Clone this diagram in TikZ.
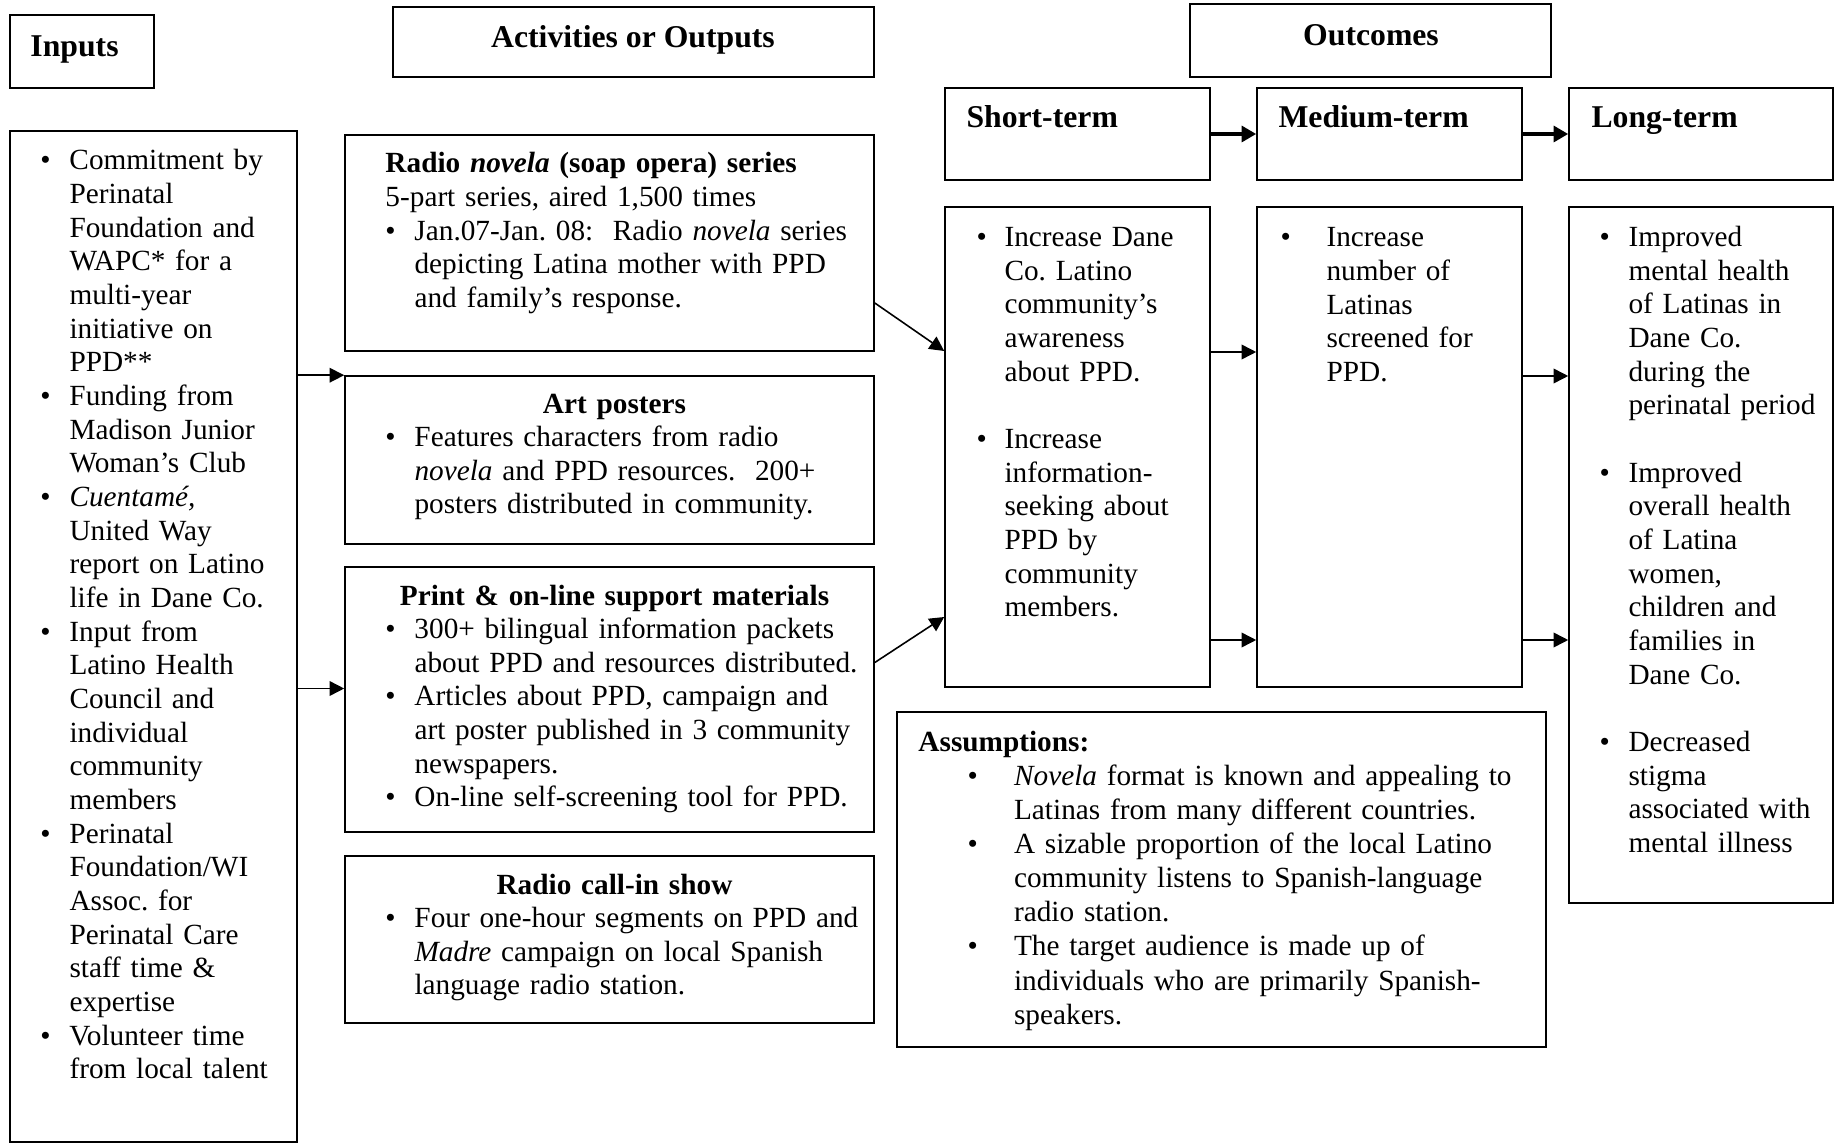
\documentclass[tikz,border=0pt]{standalone}
\usepackage{fontspec}
\setmainfont{Liberation Serif}
\usetikzlibrary{arrows.meta,calc,fit}
\frenchspacing

\newlength{\bulx}
\newlength{\txtx}
\newcommand{\setbul}[2]{\setlength{\bulx}{#1}\setlength{\txtx}{#2}}
\newcommand{\bitem}[1]{\noindent\hangindent=\txtx\hangafter=1\makebox[\txtx][l]{\hspace*{\bulx}\textbullet}#1\par}

\begin{document}
\begin{tikzpicture}[
  x=0.41pt, y=-0.41pt,
  box/.style={draw=black, line width=0.65pt, inner sep=0pt},
  head/.style={font=\fontsize{13}{15}\selectfont\bfseries, inner sep=0pt},
  body/.style={font=\fontsize{12}{13.8}\selectfont, align=left, text width=#1, inner sep=0pt, anchor=base west},
  arrow/.style={-{Triangle[length=6pt,width=6pt]}, line width=0.65pt},
  fat/.style={-{Triangle[length=6pt,width=6.5pt]}, line width=1.6pt}
]
\useasboundingbox (0,0) rectangle (1845,1144);

% column headers
\node[box, fit={(10,15)(154,88)}] (inhd) {};
\node[box, fit={(393,7)(874,77)}] (achd) {};
\node[box, fit={(1190,4)(1551,77)}] (ouhd) {};
\node[box, fit={(945,88)(1210,180)}] (sthd) {};
\node[box, fit={(1257,88)(1522,180)}] (mdhd) {};
\node[box, fit={(1569,88)(1833,180)}] (lthd) {};

\node[head, anchor=base west] (intl) at (30,57) {Inputs};
\node[head, anchor=base] (actl) at (633,48) {Activities or Outputs};
\node[head, anchor=base] (outl) at (1371,46) {Outcomes};
\node[head, anchor=base west] (stl) at (966,128) {Short-term};
\node[head, anchor=base west] (mdl) at (1278,128) {Medium-term};
\node[head, anchor=base west] (ltl) at (1591,128) {Long-term};

% content boxes
\node[box, fit={(10,131)(297,1142)}] (in) {};
\node[box, fit={(345,135)(874,351)}] (rn) {};
\node[box, fit={(345,376)(874,544)}] (ap) {};
\node[box, fit={(345,567)(874,832)}] (pr) {};
\node[box, fit={(345,856)(874,1023)}] (rc) {};
\node[box, fit={(945,207)(1210,687)}] (st) {};
\node[box, fit={(1257,207)(1522,687)}] (md) {};
\node[box, fit={(1569,207)(1833,903)}] (lt) {};
\node[box, fit={(897,712)(1546,1047)}] (as) {};

\node[body=130pt] (intx) at (40,170) {\setbul{0pt}{11.9pt}%
  \bitem{Commitment by\newline Perinatal\newline Foundation and\newline WAPC* for a\newline multi-year\newline initiative on\newline PPD**}%
  \bitem{Funding from\newline Madison Junior\newline Woman's Club}%
  \bitem{\textit{Cuentamé,}\newline United Way\newline report on Latino\newline life in Dane Co.}%
  \bitem{Input from\newline Latino Health\newline Council and\newline individual\newline community\newline members}%
  \bitem{Perinatal\newline Foundation/WI\newline Assoc. for\newline Perinatal Care\newline staff time \&\newline expertise}%
  \bitem{Volunteer time\newline from local talent}};

\node[body=205pt] (rntx) at (385,173) {\setbul{0pt}{11.9pt}%
  \noindent\textbf{Radio \textit{novela} (soap opera) series}\par
  \noindent 5-part series, aired 1,500 times\par
  \bitem{Jan.07-Jan. 08:\ \ Radio \textit{novela} series\newline depicting Latina mother with PPD\newline and family's response.}};

\node[body=205pt] (aptx) at (385,413) {\setbul{0pt}{11.9pt}%
  \noindent\makebox[187.8pt]{\textbf{Art posters}}\par
  \bitem{Features characters from radio\newline \textit{novela} and PPD resources.\ \ 200+\newline posters distributed in community.}};

\node[body=205pt] (prtx) at (385,605) {\setbul{0pt}{11.9pt}%
  \noindent\makebox[187.8pt]{\textbf{Print \& on-line support materials}}\par
  \bitem{300+ bilingual information packets\newline about PPD and resources distributed.}%
  \bitem{Articles about PPD, campaign and\newline art poster published in 3 community\newline newspapers.}%
  \bitem{On-line self-screening tool for PPD.}};

\node[body=205pt] (rctx) at (385,894) {\setbul{0pt}{11.9pt}%
  \noindent\makebox[187.8pt]{\textbf{Radio call-in show}}\par
  \bitem{Four one-hour segments on PPD and\newline \textit{Madre} campaign on local Spanish\newline language radio station.}};

\node[body=100pt] (sttx) at (976,246.5) {\setbul{0pt}{11.5pt}%
  \bitem{Increase Dane\newline Co. Latino\newline community's\newline awareness\newline about PPD.}%
  \vspace{13.8pt}%
  \bitem{Increase\newline information-\newline seeking about\newline PPD by\newline community\newline members.}};

\node[body=100pt] (mdtx) at (1280,247) {\setbul{0pt}{18.9pt}%
  \bitem{Increase\newline number of\newline Latinas\newline screened for\newline PPD.}};

\node[body=100pt] (lttx) at (1599,246.5) {\setbul{0pt}{11.9pt}%
  \bitem{Improved\newline mental health\newline of Latinas in\newline Dane Co.\newline during the\newline perinatal period}%
  \vspace{13.8pt}%
  \bitem{Improved\newline overall health\newline of Latina\newline women,\newline children and\newline families in\newline Dane Co.}%
  \vspace{13.8pt}%
  \bitem{Decreased\newline stigma\newline associated with\newline mental illness}};

\node[body=250pt, font=\fontsize{12}{14}\selectfont] (astx) at (918,751) {\setbul{20.1pt}{39.2pt}%
  \noindent\textbf{Assumptions:}\par
  \bitem{\textit{Novela} format is known and appealing to\newline Latinas from many different countries.}%
  \bitem{A sizable proportion of the local Latino\newline community listens to Spanish-language\newline radio station.}%
  \bitem{The target audience is made up of\newline individuals who are primarily Spanish-\newline speakers.}};

% connectors
\coordinate (p2) at ($(pr.west)+(0,-11)$);
\draw[arrow] (in.east |- ap.north west) -- (ap.north west);
\draw[arrow] (in.east |- p2) -- (p2);
\draw[arrow] ($(rn.east)+(0,60)$) -- ($(st.west)+(0,-96)$);
\draw[arrow] ($(pr.east)+(0,-37)$) -- ($(st.west)+(0,170)$);
\draw[fat] (sthd) -- (mdhd);
\draw[fat] (mdhd) -- (lthd);
\draw[arrow] ($(st.east)+(0,-95)$) -- ($(md.west)+(0,-95)$);
\draw[arrow] ($(st.east)+(0,193)$) -- ($(md.west)+(0,193)$);
\draw[arrow] ($(md.east)+(0,-71)$) coordinate (m1) -- (m1 -| lt.west);
\draw[arrow] ($(md.east)+(0,193)$) coordinate (m2) -- (m2 -| lt.west);
\end{tikzpicture}
\end{document}
